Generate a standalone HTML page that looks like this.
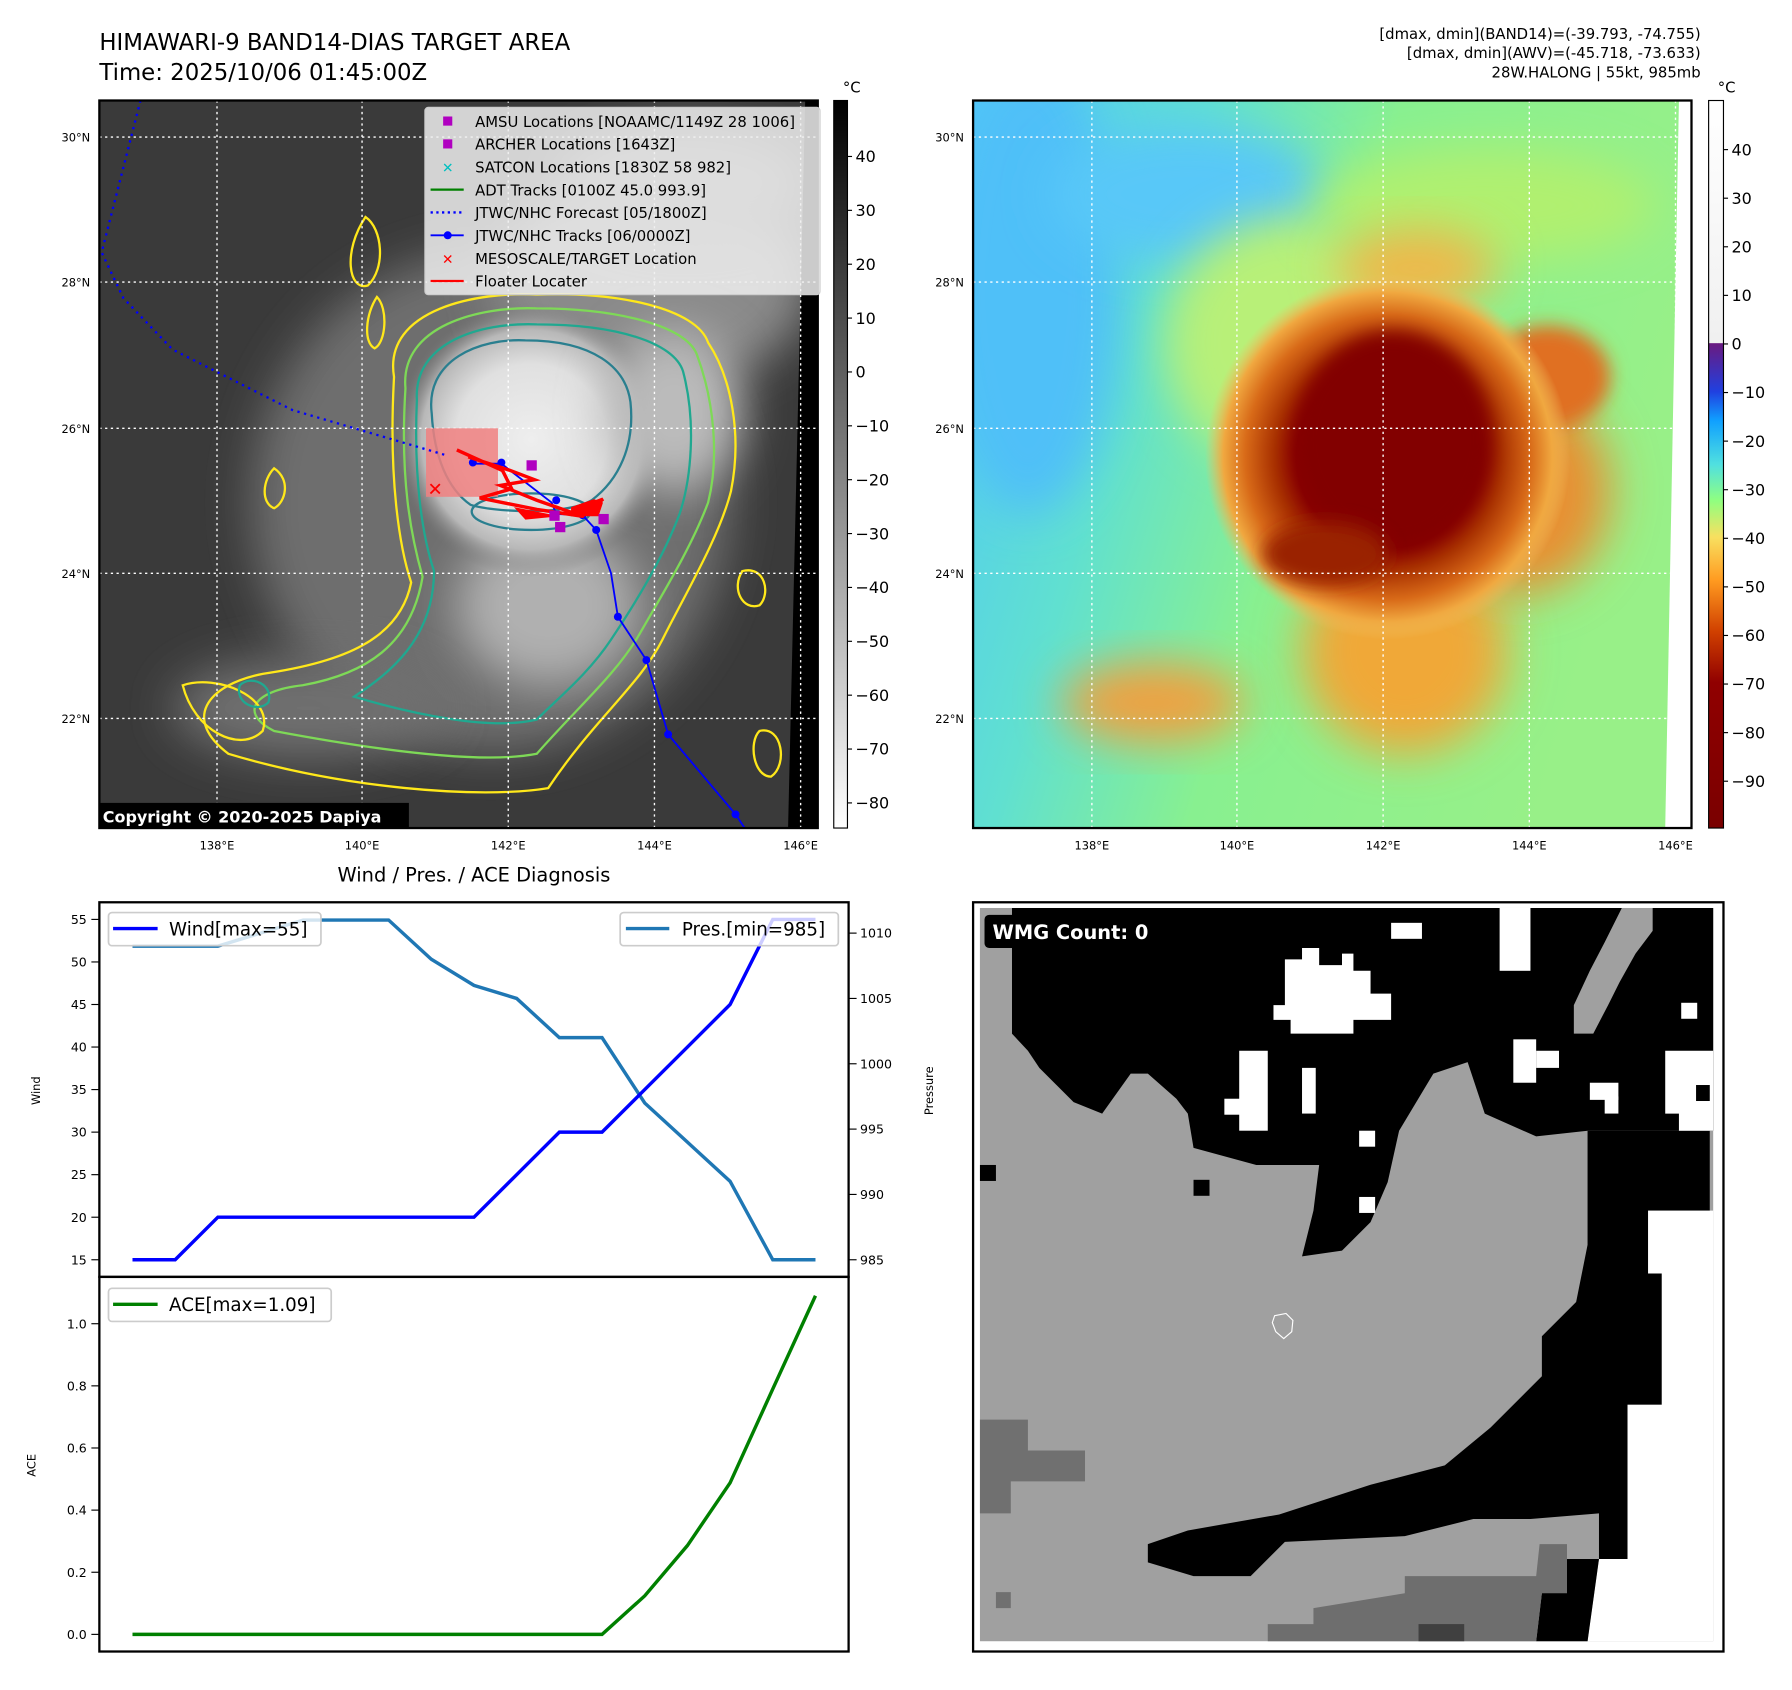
<!DOCTYPE html>
<html><head><meta charset="utf-8"><style>
html,body{margin:0;padding:0;background:#fff}
svg{display:block;font-family:"DejaVu Sans","Liberation Sans",sans-serif}
</style></head><body>
<svg id="root" width="1792" height="1690" viewBox="0 0 1569 1479.7" preserveAspectRatio="none" xmlns="http://www.w3.org/2000/svg">
<defs>
<filter id="blur8" x="-30%" y="-30%" width="160%" height="160%"><feGaussianBlur stdDeviation="8"/></filter>
<filter id="blur20" x="-40%" y="-40%" width="180%" height="180%"><feGaussianBlur stdDeviation="20"/></filter>
<linearGradient id="cbGray" x1="0" y1="0" x2="0" y2="1">
<stop offset="0" stop-color="#000"/><stop offset="1" stop-color="#fff"/></linearGradient>
<linearGradient id="cbColor" x1="0" y1="0" x2="0" y2="1">
<stop offset="0" stop-color="#ffffff"/><stop offset="0.333" stop-color="#f0f0f0"/>
<stop offset="0.334" stop-color="#6a1a80"/><stop offset="0.40" stop-color="#2040e0"/>
<stop offset="0.44" stop-color="#10a0ff"/><stop offset="0.50" stop-color="#50e0e0"/>
<stop offset="0.55" stop-color="#90ff80"/><stop offset="0.60" stop-color="#f8e060"/>
<stop offset="0.66" stop-color="#ff9a20"/><stop offset="0.73" stop-color="#d04000"/>
<stop offset="0.80" stop-color="#900000"/><stop offset="1" stop-color="#7a0000"/></linearGradient>
<radialGradient id="coreL" cx="0.5" cy="0.5" r="0.5">
<stop offset="0" stop-color="#eeeeee"/><stop offset="0.55" stop-color="#e0e0e0"/><stop offset="0.8" stop-color="#b8b8b8"/><stop offset="1" stop-color="#777" stop-opacity="0"/></radialGradient>
<radialGradient id="coreR" cx="0.5" cy="0.5" r="0.5">
<stop offset="0" stop-color="#800000"/><stop offset="0.5" stop-color="#880000"/><stop offset="0.62" stop-color="#a83000"/><stop offset="0.78" stop-color="#d86a18"/><stop offset="0.9" stop-color="#f0a840"/><stop offset="1" stop-color="#f0c060" stop-opacity="0"/></radialGradient>
<linearGradient id="bgR" x1="0" y1="0" x2="1" y2="0.3">
<stop offset="0" stop-color="#50c8f8"/><stop offset="0.3" stop-color="#60e0d0"/><stop offset="0.55" stop-color="#88f090"/><stop offset="1" stop-color="#98f088"/></linearGradient>
<clipPath id="clipL"><rect x="87" y="88" width="629" height="637"/></clipPath>
<clipPath id="clipR"><rect x="852" y="88" width="629" height="637"/></clipPath>
</defs>

<text x="87" y="44" font-size="20" fill="#000">HIMAWARI-9 BAND14-DIAS TARGET AREA</text>
<text x="87" y="70" font-size="20" fill="#000">Time: 2025/10/06 01:45:00Z</text>
<g font-size="13" text-anchor="end" fill="#000">
<text x="1489" y="34">[dmax, dmin](BAND14)=(-39.793, -74.755)</text>
<text x="1489" y="51">[dmax, dmin](AWV)=(-45.718, -73.633)</text>
<text x="1489" y="68">28W.HALONG | 55kt, 985mb</text>
</g>

<!-- LEFT MAP -->
<g>
<g clip-path="url(#clipL)">
<rect x="87" y="88" width="629" height="637" fill="#3a3a3a"/>
<ellipse cx="430" cy="440" rx="210" ry="220" fill="#6e6e6e" filter="url(#blur20)"/>
<ellipse cx="570" cy="250" rx="140" ry="90" fill="#8a8a8a" filter="url(#blur20)"/>
<ellipse cx="600" cy="160" rx="110" ry="50" fill="#7a7a7a" filter="url(#blur20)"/>
<ellipse cx="270" cy="620" rx="120" ry="45" fill="#707070" filter="url(#blur20)"/>
<ellipse cx="480" cy="530" rx="80" ry="70" fill="#b0b0b0" filter="url(#blur20)"/>
<ellipse cx="465" cy="385" rx="120" ry="120" fill="url(#coreL)"/>
<ellipse cx="590" cy="360" rx="60" ry="70" fill="#bbbbbb" filter="url(#blur20)"/>
<g fill="none" stroke-width="2">
<path d="M345,330 C335,270 420,255 470,258 C540,255 610,270 620,300 C640,330 650,380 640,430 C630,470 600,520 580,560 C560,600 520,630 480,690 C420,700 300,690 200,660 C160,630 180,600 230,590 C300,580 350,560 360,510 C350,480 340,420 345,330Z" stroke="#ffe81a"/>
<path d="M355,340 C350,285 420,268 470,270 C540,270 600,285 610,310 C625,350 630,400 620,440 C605,480 580,520 560,555 C540,590 505,620 470,660 C420,670 320,655 240,640 C210,625 220,605 265,600 C320,590 360,565 370,505 C360,470 350,420 355,340Z" stroke="#7ed957"/>
<path d="M365,350 C362,300 420,282 470,284 C540,284 590,300 598,325 C610,370 605,420 595,450 C580,490 555,530 535,560 C515,590 490,610 470,630 C430,640 360,625 310,610 C340,590 380,560 380,500 C370,470 362,420 365,350Z" stroke="#20a890"/>
<path d="M378,362 C372,315 420,296 460,298 C520,298 548,322 552,352 C556,390 542,420 518,438 C495,452 430,448 412,442 C392,428 380,400 378,362Z" stroke="#2a7f8f"/>
<ellipse cx="465" cy="448" rx="52" ry="16" stroke="#2a7f8f"/>
<path d="M160,600 C190,590 240,610 230,640 C210,660 170,640 160,600Z" stroke="#ffe81a"/>
<path d="M320,190 C335,200 338,235 322,250 C305,255 300,220 320,190Z" stroke="#ffe81a"/>
<path d="M330,260 C340,270 338,300 328,305 C318,300 320,275 330,260Z" stroke="#ffe81a"/>
<path d="M650,500 C670,495 675,520 665,530 C650,535 640,515 650,500Z" stroke="#ffe81a"/>
<path d="M665,640 C685,635 690,670 675,680 C660,680 655,650 665,640Z" stroke="#ffe81a"/>
<path d="M240,410 C255,420 250,440 240,445 C228,440 230,420 240,410Z" stroke="#ffe81a"/>
<path d="M210,600 C220,590 240,600 235,615 C225,625 205,615 210,600Z" stroke="#20a890"/>
</g>
<polygon points="716,88 716,725 690,725 705,88" fill="#000"/>
<g stroke="#fff" stroke-width="1.2" stroke-dasharray="2,3">
<line x1="87" y1="120" x2="716" y2="120"/><line x1="87" y1="247" x2="716" y2="247"/><line x1="87" y1="375" x2="716" y2="375"/><line x1="87" y1="502" x2="716" y2="502"/><line x1="87" y1="629" x2="716" y2="629"/>
<line x1="190" y1="88" x2="190" y2="725"/><line x1="317" y1="88" x2="317" y2="725"/><line x1="445" y1="88" x2="445" y2="725"/><line x1="573" y1="88" x2="573" y2="725"/><line x1="701" y1="88" x2="701" y2="725"/>
</g>
<rect x="373" y="375" width="63" height="60" fill="#f08080" opacity="0.85"/>
<polyline points="123,88 89,221 108,261 151,306 256,359 392,399" fill="none" stroke="#0000ff" stroke-width="2" stroke-dasharray="2,4"/>
<polyline points="660,737 644,713 585,643 566,578 541,540 535,502 522,464 510,451 487,450 483,440 439,406 414,406" fill="none" stroke="#0000ff" stroke-width="1.6"/>
<g fill="#0000ff"><circle cx="644" cy="713" r="3.5"/><circle cx="585" cy="643" r="3.5"/><circle cx="566" cy="578" r="3.5"/><circle cx="541" cy="540" r="3.5"/><circle cx="522" cy="464" r="3.5"/><circle cx="510" cy="451" r="3.5"/><circle cx="487" cy="438" r="3.5"/><circle cx="439" cy="405" r="3.5"/><circle cx="414" cy="405" r="3.5"/></g>
<polyline points="400,394 440,412 448,428 420,436 470,446 510,452 520,440 528,437 510,452 470,438 438,425 468,420 447,412 410,400" fill="none" stroke="#ff0000" stroke-width="3"/>
<path d="M500,444 L520,437 L528,440 L524,452 L500,452Z" fill="#ff0000"/>
<path d="M450,444 L490,452 L460,455Z" fill="#ff0000"/>
<g fill="#b000c0"><rect x="461" y="403" width="9" height="9"/><rect x="486" y="457" width="9" height="9"/><rect x="524" y="450" width="9" height="9"/><rect x="481" y="447" width="9" height="9"/></g>
<text x="381" y="434" font-size="16" font-weight="bold" fill="#ff0000" text-anchor="middle">✕</text>
</g>
<rect x="87" y="88" width="629" height="637" fill="none" stroke="#000" stroke-width="2"/>
<rect x="87" y="703" width="271" height="22" fill="#000"/>
<text x="90" y="720" font-size="14" font-weight="bold" fill="#fff">Copyright © 2020-2025 Dapiya</text>
<g>
<rect x="372" y="94" width="346" height="164" rx="3" fill="#eeeeee" fill-opacity="0.85" stroke="#ccc"/>
<g font-size="13" fill="#000">
<rect x="388" y="102" width="8" height="8" fill="#b000c0"/><text x="416" y="111">AMSU Locations [NOAAMC/1149Z 28 1006]</text>
<rect x="388" y="122" width="8" height="8" fill="#b000c0"/><text x="416" y="131">ARCHER Locations [1643Z]</text>
<text x="392" y="151" fill="#00c0c0" text-anchor="middle" font-size="12" font-weight="bold">✕</text><text x="416" y="151">SATCON Locations [1830Z 58 982]</text>
<line x1="377" y1="166" x2="406" y2="166" stroke="#008000" stroke-width="2"/><text x="416" y="171">ADT Tracks [0100Z 45.0 993.9]</text>
<line x1="377" y1="186" x2="406" y2="186" stroke="#0000ff" stroke-width="2" stroke-dasharray="2,3"/><text x="416" y="191">JTWC/NHC Forecast [05/1800Z]</text>
<line x1="377" y1="206" x2="406" y2="206" stroke="#0000ff" stroke-width="1.6"/><circle cx="392" cy="206" r="3.5" fill="#0000ff"/><text x="416" y="211">JTWC/NHC Tracks [06/0000Z]</text>
<text x="392" y="231" fill="#ff0000" text-anchor="middle" font-size="12" font-weight="bold">✕</text><text x="416" y="231">MESOSCALE/TARGET Location</text>
<line x1="377" y1="246" x2="406" y2="246" stroke="#ff0000" stroke-width="2"/><text x="416" y="251">Floater Locater</text>
</g></g>
<g font-size="10" fill="#000">
<g text-anchor="end"><text x="79" y="124">30°N</text><text x="79" y="251">28°N</text><text x="79" y="379">26°N</text><text x="79" y="506">24°N</text><text x="79" y="633">22°N</text></g>
<g text-anchor="middle"><text x="190" y="744">138°E</text><text x="317" y="744">140°E</text><text x="445" y="744">142°E</text><text x="573" y="744">144°E</text><text x="701" y="744">146°E</text></g>
</g>
<g>
<rect x="730" y="88" width="12" height="637" fill="url(#cbGray)" stroke="#000" stroke-width="1"/>
<text x="738" y="81" font-size="13">°C</text>
<g font-size="14" fill="#000" id="cbL"></g>
</g>

<!-- RIGHT MAP -->
<g>
<g clip-path="url(#clipR)">
<rect x="852" y="88" width="629" height="637" fill="url(#bgR)"/>
<ellipse cx="900" cy="250" rx="80" ry="200" fill="#50c0f8" filter="url(#blur20)"/>
<ellipse cx="1040" cy="170" rx="120" ry="60" fill="#58c8f8" filter="url(#blur20)"/>
<ellipse cx="1130" cy="300" rx="110" ry="110" fill="#b8f078" filter="url(#blur20)"/>
<ellipse cx="1300" cy="180" rx="150" ry="50" fill="#b0f070" filter="url(#blur20)"/>
<ellipse cx="1010" cy="615" rx="80" ry="35" fill="#f0a040" filter="url(#blur20)"/>
<ellipse cx="1230" cy="570" rx="90" ry="90" fill="#f0a838" filter="url(#blur20)"/>
<ellipse cx="1330" cy="430" rx="80" ry="90" fill="#e89030" filter="url(#blur20)"/>
<ellipse cx="1355" cy="330" rx="55" ry="45" fill="#e07020" filter="url(#blur8)"/>
<ellipse cx="1240" cy="235" rx="70" ry="35" fill="#f0b848" filter="url(#blur20)"/>
<ellipse cx="1215" cy="400" rx="160" ry="160" fill="url(#coreR)"/>
<ellipse cx="1220" cy="385" rx="85" ry="95" fill="#820000" filter="url(#blur8)"/>
<ellipse cx="1160" cy="485" rx="55" ry="28" fill="#9a2000" filter="url(#blur8)"/>
<polygon points="1470,88 1481,88 1481,725 1458,725" fill="#fff"/>
<g stroke="#fff" stroke-width="1.2" stroke-dasharray="2,3">
<line x1="852" y1="120" x2="1481" y2="120"/><line x1="852" y1="247" x2="1481" y2="247"/><line x1="852" y1="375" x2="1481" y2="375"/><line x1="852" y1="502" x2="1481" y2="502"/><line x1="852" y1="629" x2="1481" y2="629"/>
<line x1="956" y1="88" x2="956" y2="725"/><line x1="1083" y1="88" x2="1083" y2="725"/><line x1="1211" y1="88" x2="1211" y2="725"/><line x1="1339" y1="88" x2="1339" y2="725"/><line x1="1467" y1="88" x2="1467" y2="725"/>
</g>
</g>
<rect x="852" y="88" width="629" height="637" fill="none" stroke="#000" stroke-width="2"/>
</g>
<g font-size="10" fill="#000">
<g text-anchor="end"><text x="844" y="124">30°N</text><text x="844" y="251">28°N</text><text x="844" y="379">26°N</text><text x="844" y="506">24°N</text><text x="844" y="633">22°N</text></g>
<g text-anchor="middle"><text x="956" y="744">138°E</text><text x="1083" y="744">140°E</text><text x="1211" y="744">142°E</text><text x="1339" y="744">144°E</text><text x="1467" y="744">146°E</text></g>
</g>
<g>
<rect x="1496" y="88" width="13" height="637" fill="url(#cbColor)" stroke="#000" stroke-width="1"/>
<text x="1504" y="81" font-size="13">°C</text>
<g font-size="14" fill="#000" id="cbR"></g>
</g>

<!-- BOTTOM LEFT CHART -->
<text x="415" y="772" font-size="17" text-anchor="middle">Wind / Pres. / ACE Diagnosis</text>
<g id="chart"></g>
<rect x="87" y="790" width="656" height="328" fill="none" stroke="#000" stroke-width="2"/>
<rect x="87" y="1118" width="656" height="328" fill="none" stroke="#000" stroke-width="2"/>
<text transform="translate(35,955) rotate(-90)" font-size="10" text-anchor="middle">Wind</text>
<text transform="translate(817,955) rotate(-90)" font-size="10" text-anchor="middle">Pressure</text>
<text transform="translate(31,1283) rotate(-90)" font-size="10" text-anchor="middle">ACE</text>
<g><rect x="95" y="799" width="186" height="29" rx="3" fill="#fff" fill-opacity="0.8" stroke="#ccc" stroke-width="1.5"/><line x1="99" y1="813" x2="138" y2="813" stroke="#0000ff" stroke-width="3"/><text x="148" y="819" font-size="16">Wind[max=55]</text></g>
<g><rect x="543" y="799" width="191" height="29" rx="3" fill="#fff" fill-opacity="0.8" stroke="#ccc" stroke-width="1.5"/><line x1="548" y1="813" x2="586" y2="813" stroke="#1f77b4" stroke-width="3"/><text x="597" y="819" font-size="16">Pres.[min=985]</text></g>
<g><rect x="95" y="1128" width="195" height="29" rx="3" fill="#fff" fill-opacity="0.8" stroke="#ccc" stroke-width="1.5"/><line x1="99" y1="1142" x2="138" y2="1142" stroke="#008000" stroke-width="3"/><text x="148" y="1148" font-size="16">ACE[max=1.09]</text></g>

<!-- BOTTOM RIGHT WMG -->
<g>
<rect x="852" y="790" width="657" height="656" fill="#fff"/>
<rect x="858" y="795" width="642" height="642" fill="#a0a0a0"/>
<polygon points="886,795 1500,795 1500,990 1390,990 1345,995 1300,975 1285,930 1255,940 1225,990 1215,1035 1200,1070 1175,1095 1140,1100 1150,1060 1155,1020 1100,1020 1045,1005 1040,975 1030,962 1005,940 990,940 965,975 940,965 925,950 910,935 900,920 886,905" fill="#000"/>
<polygon points="1390,990 1497,990 1497,1060 1443,1060 1443,1115 1455,1115 1455,1230 1425,1230 1425,1365 1400,1365 1400,1325 1340,1330 1290,1330 1230,1345 1125,1350 1095,1380 1045,1380 1005,1368 1005,1352 1040,1340 1120,1326 1200,1300 1265,1283 1305,1250 1350,1205 1350,1170 1380,1140 1390,1090" fill="#000"/>
<polygon points="1443,1060 1500,1060 1500,1437 1390,1437 1400,1365 1425,1365 1425,1230 1455,1230 1455,1115 1443,1115" fill="#fff"/>
<polygon points="1365,1365 1400,1365 1390,1437 1345,1437 1350,1395 1365,1385" fill="#000"/>
<polygon points="1110,1437 1110,1422 1150,1422 1150,1408 1230,1395 1230,1380 1345,1380 1348,1352 1372,1352 1372,1395 1350,1395 1345,1437" fill="#6e6e6e"/>
<rect x="1242" y="1422" width="40" height="15" fill="#404040"/>
<polygon points="858,1243 900,1243 900,1270 950,1270 950,1297 885,1297 885,1325 858,1325" fill="#707070"/>
<rect x="872" y="1394" width="13" height="14" fill="#707070"/>
<polygon points="1420,795 1447,795 1447,815 1432,835 1418,860 1408,880 1395,905 1378,905 1378,880 1392,850 1405,825" fill="#a0a0a0"/>
<polygon points="858,795 886,795 886,905 858,905" fill="#a0a0a0"/>
<g fill="#fff">
<polygon points="1125,840 1140,840 1140,830 1155,830 1155,845 1175,845 1175,835 1185,835 1185,850 1200,850 1200,870 1218,870 1218,893 1185,893 1185,905 1130,905 1130,893 1115,893 1115,880 1125,880"/>
<rect x="1313" y="795" width="27" height="55"/><rect x="1218" y="808" width="27" height="14"/>
<rect x="1085" y="920" width="25" height="70"/><rect x="1072" y="962" width="20" height="14"/><rect x="1140" y="935" width="12" height="40"/>
<rect x="1325" y="910" width="20" height="38"/><rect x="1345" y="920" width="20" height="15"/>
<rect x="1392" y="948" width="25" height="15"/><rect x="1405" y="960" width="12" height="15"/>
<polygon points="1458,920 1500,920 1500,990 1470,990 1470,975 1458,975"/>
<rect x="1190" y="990" width="14" height="14"/><rect x="1190" y="1048" width="14" height="14"/>
<rect x="1472" y="878" width="14" height="14"/>
</g>
<rect x="1485" y="950" width="12" height="14" fill="#000"/>
<rect x="858" y="1020" width="14" height="14" fill="#000"/>
<rect x="1045" y="1033" width="14" height="14" fill="#000"/>
<path d="M1116,1152 L1126,1150 L1132,1156 L1131,1166 L1124,1172 L1117,1166 L1114,1158Z" fill="none" stroke="#fff" stroke-width="1"/>
<rect x="852" y="790" width="657" height="656" fill="none" stroke="#000" stroke-width="2"/>
<rect x="862" y="801" width="160" height="29" rx="4" fill="#000"/>
<text x="869" y="822" font-size="17" font-weight="bold" fill="#fff">WMG Count: 0</text>
</g>
</svg>
<script>
const windValues=[15,15,20,20,20,20,20,20,20,25,30,30,35,40,45,55,55];
const presValues=[1009,1009,1009,1010,1011,1011,1011,1008,1006,1005,1002,1002,997,994,991,985,985];
const aceValues=[0,0,0,0,0,0,0,0,0,0,0,0,0.124,0.286,0.488,0.79,1.09];
const windTicks=[15,20,25,30,35,40,45,50,55];
const presTicks=[985,990,995,1000,1005,1010];
const aceTicks=[0.0,0.2,0.4,0.6,0.8,1.0];
const cbLTicks=[40,30,20,10,0,-10,-20,-30,-40,-50,-60,-70,-80];
const cbRTicks=[40,30,20,10,0,-10,-20,-30,-40,-50,-60,-70,-80,-90];

const NS='http://www.w3.org/2000/svg';
const xs=i=>116+i*(714-116)/(windValues.length-1);
const yWind=v=>1103-(v-15)*(1103-805)/40;
const yPres=v=>1103-(v-985)*(1103-817)/25;
const yAce=v=>1431-v*(1431-1159);
const yCbL=v=>137+(40-v)*(703-137)/120;
const yCbR=v=>131+(40-v)*(684-131)/130;
function mk(tag,attrs,parent){const e=document.createElementNS(NS,tag);for(const k in attrs)e.setAttribute(k,attrs[k]);parent.appendChild(e);return e;}
const chart=document.getElementById('chart');
function line(vals,yf,color,name){
  const p=mk('polyline',{points:vals.map((v,i)=>xs(i)+','+yf(v)).join(' '),fill:'none',stroke:color,'stroke-width':3},chart);
  
  
}
line(presValues,yPres,'#1f77b4','pressure-line');
line(windValues,yWind,'#0000ff','wind-line');
line(aceValues,yAce,'#008000','ace-line');
windTicks.forEach(t=>{const y=yWind(t);mk('line',{x1:80,x2:87,y1:y,y2:y,stroke:'#000'},chart);
  const tx=mk('text',{x:76,y:y+4,'font-size':11,'text-anchor':'end'},chart);tx.textContent=t;
  
  });
presTicks.forEach(t=>{const y=yPres(t);mk('line',{x1:743,x2:750,y1:y,y2:y,stroke:'#000'},chart);
  const tx=mk('text',{x:753,y:y+4,'font-size':11},chart);tx.textContent=t;
  
  });
aceTicks.forEach(t=>{const y=yAce(t);mk('line',{x1:80,x2:87,y1:y,y2:y,stroke:'#000'},chart);
  const tx=mk('text',{x:76,y:y+4,'font-size':11,'text-anchor':'end'},chart);tx.textContent=t.toFixed(1);
  
  });
function cb(id,ticks,yf,x0){const g=document.getElementById(id);
  ticks.forEach(t=>{const y=yf(t);mk('line',{x1:x0,x2:x0+4,y1:y,y2:y,stroke:'#000'},g);
  const tx=mk('text',{x:x0+7,y:y+5},g);tx.textContent=(t<0?'\u2212'+(-t):t);
  
  });}
cb('cbL',cbLTicks,yCbL,742);
cb('cbR',cbRTicks,yCbR,1509);
</script>
</body></html>
